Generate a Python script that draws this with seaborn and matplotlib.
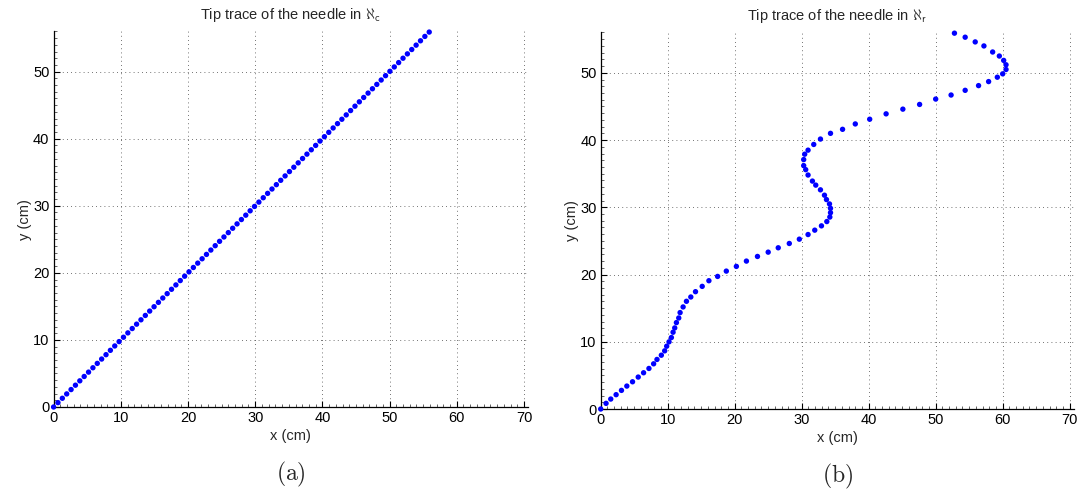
import matplotlib
matplotlib.use("Agg")
import matplotlib.pyplot as plt
from matplotlib.ticker import MultipleLocator
import pandas as pd
import seaborn as sns

# Needle tip positions (cm) in the straight frame
x_c = [0.0, 0.65, 1.3, 1.95, 2.6, 3.25, 3.9, 4.55, 5.2, 5.85,
       6.5, 7.15, 7.8, 8.45, 9.1, 9.75, 10.4, 11.05, 11.7, 12.35,
       13.0, 13.65, 14.3, 14.95, 15.6, 16.25, 16.9, 17.55, 18.2, 18.85,
       19.5, 20.15, 20.8, 21.45, 22.1, 22.75, 23.4, 24.05, 24.7, 25.35,
       26.0, 26.65, 27.3, 27.95, 28.6, 29.25, 29.9, 30.55, 31.2, 31.85,
       32.5, 33.15, 33.8, 34.45, 35.1, 35.75, 36.4, 37.05, 37.7, 38.35,
       39.0, 39.65, 40.3, 40.95, 41.6, 42.25, 42.9, 43.55, 44.2, 44.85,
       45.5, 46.15, 46.8, 47.45, 48.1, 48.75, 49.4, 50.05, 50.7, 51.35,
       52.0, 52.65, 53.3, 53.95, 54.6, 55.25, 55.9]
y_c = list(x_c)

# Needle tip positions (cm) in the curved frame
x_r = [0.0, 0.8, 1.5, 2.3, 3.1, 3.9, 4.75, 5.6, 6.4, 7.2,
       7.9, 8.4, 9.05, 9.55, 9.85, 10.2, 10.55, 10.8, 11.05, 11.3,
       11.65, 11.85, 12.3, 12.8, 13.45, 14.15, 15.15, 16.15, 17.45, 18.75,
       20.25, 21.75, 23.4, 25.0, 26.5, 28.15, 29.65, 30.95, 31.95, 32.95,
       33.75, 34.2, 34.3, 34.3, 34.15, 33.7, 33.4, 32.8, 32.1, 31.6,
       30.95, 30.6, 30.3, 30.3, 30.45, 30.95, 31.8, 32.8, 34.3, 36.1,
       38.0, 40.15, 42.6, 45.1, 47.6, 50.0, 52.3, 54.4, 56.4, 57.9,
       59.2, 60.0, 60.5, 60.5, 60.15, 59.5, 58.5, 57.2, 55.9, 54.4,
       52.8]
y_r = [0.0, 0.84, 1.48, 2.13, 2.77, 3.41, 4.05, 4.75, 5.39, 6.03,
       6.72, 7.37, 8.0, 8.65, 9.34, 9.99, 10.63, 11.42, 12.06, 12.85,
       13.54, 14.34, 15.18, 16.02, 16.66, 17.45, 18.24, 19.08, 19.72, 20.51,
       21.21, 22.0, 22.69, 23.33, 23.98, 24.62, 25.26, 25.95, 26.6, 27.24,
       27.88, 28.55, 29.2, 29.85, 30.5, 31.15, 31.8, 32.6, 33.3, 33.9,
       34.8, 35.6, 36.2, 37.1, 37.9, 38.5, 39.35, 40.15, 41.0, 41.6,
       42.4, 43.1, 43.9, 44.6, 45.3, 46.1, 46.7, 47.4, 48.1, 48.7,
       49.35, 49.85, 50.5, 51.2, 51.85, 52.5, 53.1, 54.0, 54.6, 55.3,
       55.9]

titles = [r"Tip trace of the needle in $\mathbf{\aleph}_\mathsf{c}$",
          r"Tip trace of the needle in $\mathbf{\aleph}_\mathsf{r}$"]
panel_tags = [r"$\mathrm{(a)}$", r"$\mathrm{(b)}$"]

sns.set_style("white")
plt.rcParams["font.family"] = ["Liberation Sans", "DejaVu Sans"]
plt.rcParams["mathtext.fontset"] = "cm"

fig = plt.figure(figsize=(10.83, 4.94), dpi=100)
ax_a = fig.add_axes([53.6 / 1083, 1 - 407 / 494, 474.4 / 1083, 375.6 / 494])
ax_b = fig.add_axes([600.7 / 1083, 1 - 409 / 494, 473.0 / 1083, 376.5 / 494])

frames = [pd.DataFrame({"x": x_c, "y": y_c}),
          pd.DataFrame({"x": x_r, "y": y_r})]

for ax, df, title, tag in zip([ax_a, ax_b], frames, titles, panel_tags):
    sns.scatterplot(data=df, x="x", y="y", ax=ax, color=(0, 0, 1),
                    s=15, edgecolor="none", linewidth=0, zorder=3,
                    clip_on=False)
    ax.set_xlim(0, 70.6)
    ax.set_ylim(0, 56)
    ax.xaxis.set_major_locator(MultipleLocator(10))
    ax.yaxis.set_major_locator(MultipleLocator(10))
    ax.xaxis.set_minor_locator(MultipleLocator(1))
    ax.yaxis.set_minor_locator(MultipleLocator(1))
    ax.grid(True, which="major", linestyle=(0, (1, 4)), color="#444444",
            linewidth=0.6)
    ax.tick_params(which="major", direction="in", length=4, width=0.8,
                   labelsize=10.5, pad=3, colors="black")
    ax.tick_params(which="minor", direction="in", length=2, width=0.5)
    ax.tick_params(axis="both", which="both", bottom=True, left=True,
                   top=False, right=False)
    for side in ["top", "right"]:
        ax.spines[side].set_visible(False)
    for side in ["left", "bottom"]:
        ax.spines[side].set_color("black")
        ax.spines[side].set_linewidth(0.9)
    ax.set_xlabel("x (cm)", fontsize=10.5, labelpad=3)
    ax.set_ylabel("y (cm)", fontsize=10.5, labelpad=1)
    ax.set_title(title, fontsize=10.5, pad=9)
    ax.text(0.5, -0.18, tag, transform=ax.transAxes, ha="center",
            va="center", fontsize=17)

fig.savefig("out.png", dpi=100, facecolor="white")
